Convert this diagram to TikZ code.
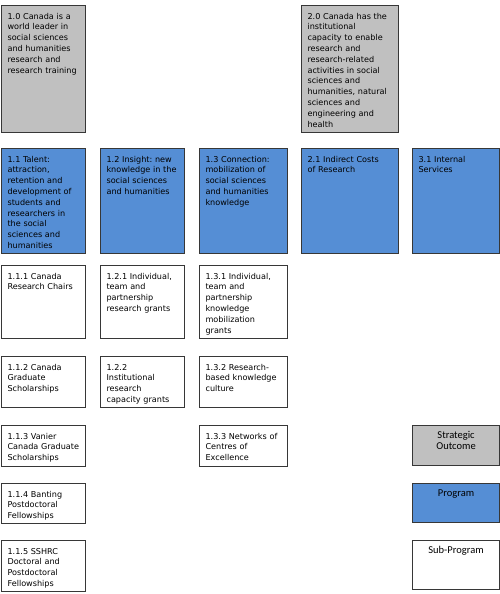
\documentclass[tikz,border=0pt]{standalone}
\usepackage{fontspec}
\setmainfont{DejaVu Sans}
\newfontfamily\legendfont{Carlito}
\usepackage{xcolor}
\usepackage{tikz}
\usetikzlibrary{positioning}
\definecolor{sogrey}{RGB}{192,192,192}
\definecolor{progblue}{RGB}{85,142,213}
\definecolor{boxline}{RGB}{55,55,55}

\begin{document}
\frenchspacing
\begin{tikzpicture}[x=1pt,y=1pt,
    box/.style 2 args={draw=boxline,line width=1.1pt,anchor=north west,
      align=left,inner xsep=6pt,inner ysep=0pt,
      text width=#1-12pt,minimum width=#1,
      text height=13.5pt,text depth=#2-13.5pt,
      execute at begin node={\hyphenpenalty=10000},
      font=\fontsize{8.1}{10.8}\selectfont},
    so/.style={fill=sogrey},
    prog/.style={fill=progblue},
    sub/.style={fill=white},
    legendbox/.style={align=center,text height=12.5pt,
      font=\legendfont\fontsize{10.5}{11}\selectfont}]
    \useasboundingbox (0,0) rectangle (500,-594);
    % strategic outcomes
    \node[box={84pt}{127pt},so] (so10) at (1,-5)
      {1.0 Canada is a\\world leader in\\social sciences\\and humanities\\research and\\research training};
    \node[box={97pt}{127pt},so] (so20) at (301,-5)
      {2.0 Canada has the\\institutional\\capacity to enable\\research and\\research-related\\activities in social\\sciences and\\humanities, natural\\sciences and\\engineering and\\health};
    % programs
    \node[box={84pt}{105pt},prog] (p11) at (1,-148)
      {1.1 Talent:\\attraction,\\retention and\\development of\\students and\\researchers in\\the social\\sciences and\\humanities};
    \node[box={84pt}{105pt},prog] (p12) at (100,-148)
      {1.2 Insight: new\\knowledge in the\\social sciences\\and humanities};
    \node[box={88pt}{105pt},prog] (p13) at (199,-148)
      {1.3 Connection:\\mobilization of\\social sciences\\and humanities\\knowledge};
    \node[box={97pt}{105pt},prog] (p21) at (301,-148)
      {2.1 Indirect Costs\\of Research};
    \node[box={87pt}{105pt},prog] (p31) at (412,-148)
      {3.1 Internal\\Services};
    % sub-programs
    \node[box={84pt}{73pt},sub] (s111) at (1,-265)
      {1.1.1 Canada\\Research Chairs};
    \node[box={84pt}{73pt},sub] (s121) at (100,-265)
      {1.2.1 Individual,\\team and\\partnership\\research grants};
    \node[box={88pt}{73pt},sub] (s131) at (199,-265)
      {1.3.1 Individual,\\team and\\partnership\\knowledge\\mobilization\\grants};
    \node[box={84pt}{51pt},sub] (s112) at (1,-356)
      {1.1.2 Canada\\Graduate\\Scholarships};
    \node[box={84pt}{51pt},sub] (s122) at (100,-356)
      {1.2.2\\Institutional\\research\\capacity grants};
    \node[box={88pt}{51pt},sub] (s132) at (199,-356)
      {1.3.2 Research-\\based knowledge\\culture};
    \node[box={84pt}{41pt},sub] (s113) at (1,-425)
      {1.1.3 Vanier\\Canada Graduate\\Scholarships};
    \node[box={88pt}{41pt},sub] (s133) at (199,-425)
      {1.3.3 Networks of\\Centres of\\Excellence};
    \node[box={84pt}{40pt},sub] (s114) at (1,-483)
      {1.1.4 Banting\\Postdoctoral\\Fellowships};
    \node[box={84pt}{51pt},sub] (s115) at (1,-540)
      {1.1.5 SSHRC\\Doctoral and\\Postdoctoral\\Fellowships};
    % legend
    \node[box={87pt}{41pt},so,legendbox] (legso) at (412,-425)
      {Strategic\\Outcome};
    \node[box={87pt}{40pt},prog,legendbox] (legprog) at (412,-483)
      {Program};
    \node[box={87pt}{50pt},sub,legendbox] (legsub) at (412,-540)
      {Sub-Program};
\end{tikzpicture}
\end{document}
